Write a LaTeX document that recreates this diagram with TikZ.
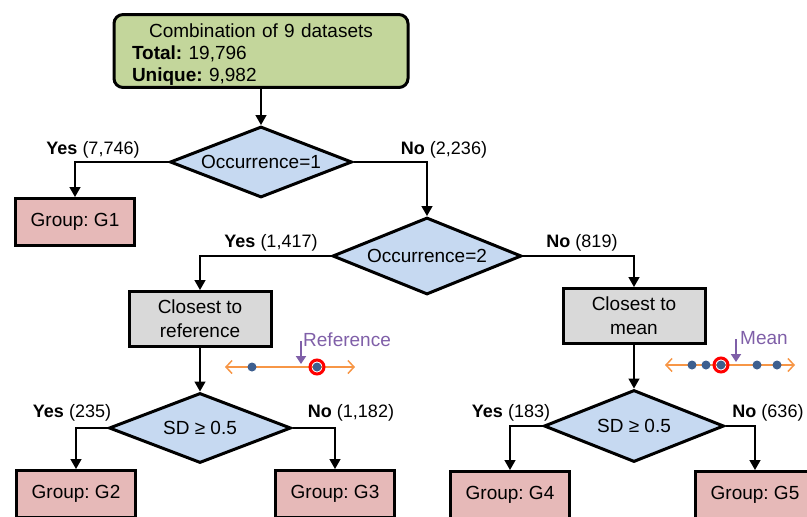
\documentclass[tikz,border=0pt]{standalone}
\usepackage{fontspec}
\setmainfont{Liberation Sans}
\frenchspacing
\usetikzlibrary{shapes.geometric,arrows.meta}
\definecolor{srcgreen}{HTML}{C3D69B}
\definecolor{grppink}{HTML}{E6B9B8}
\definecolor{condblue}{HTML}{C6D9F1}
\definecolor{pickgray}{HTML}{D9D9D9}
\definecolor{lineorange}{HTML}{F79646}
\definecolor{ptrpurple}{HTML}{7F5FA8}
\definecolor{dotblue}{HTML}{3D5F8F}
\tikzset{
  box/.style={rectangle, draw, line width=3pt, align=center, font=\fontsize{19}{24}\selectfont, inner sep=2pt},
  srcbox/.style={box, rounded corners=9pt, fill=srcgreen, text width=258pt, inner xsep=18pt, minimum height=71pt, align=left, font=\fontsize{19}{22}\selectfont},
  condbox/.style={diamond, draw, line width=3pt, fill=condblue, inner sep=0pt, aspect=2.56, font=\fontsize{19}{22}\selectfont},
  pickbox/.style={box, fill=pickgray, minimum width=142pt, minimum height=55pt},
  grpbox/.style={box, fill=grppink, minimum width=119pt, minimum height=47pt},
  lbl/.style={font=\fontsize{18}{20}\selectfont, inner sep=0pt},
  arr/.style={-{Triangle[length=10pt,width=11pt]}, line width=1.5pt},
  numline/.style={{Straight Barb[length=6pt,width=13pt]}-{Straight Barb[length=6pt,width=13pt]}, draw=lineorange, line width=1.5pt},
  pnt/.style={circle, fill=dotblue, inner sep=0pt, minimum size=9pt},
  hit/.style={circle, draw=red, line width=3pt, inner sep=0pt, minimum size=14pt},
  ptr/.style={-{Triangle[length=8pt,width=10pt]}, draw=ptrpurple, line width=2pt},
  ptrtext/.style={text=ptrpurple, font=\fontsize{19}{22}\selectfont, inner sep=0pt, anchor=west}
}

\begin{document}
\begin{tikzpicture}[x=1pt, y=-1pt]
\useasboundingbox (0,0) rectangle (807,517);

% sources and decisions
\node[srcbox] (all) at (261,51) {\makebox[258pt]{\rule{0pt}{21pt}Combination of 9 datasets}\\ \textbf{Total:} 19,796\\ \textbf{Unique:} 9,982};
\node[condbox, minimum width=182pt, minimum height=71pt] (occ1) at (261,162) {Occurrence=1};
\node[grpbox] (g1) at (75,222) {Group: G1};
\node[condbox, minimum width=189pt, minimum height=77pt] (occ2) at (427,256) {Occurrence=2};
\node[pickbox] (ref) at (200,319) {Closest to\\reference};
\node[pickbox] (mean) at (634,316) {Closest to\\mean};
\node[condbox, minimum width=182pt, minimum height=70pt] (sd1) at (200,428) {SD ≥ 0.5};
\node[condbox, minimum width=180pt, minimum height=72pt] (sd2) at (634,426) {SD ≥ 0.5};
\node[grpbox] (g2) at (76,494) {Group: G2};
\node[grpbox] (g3) at (335,494) {Group: G3};
\node[grpbox] (g4) at (510,495) {Group: G4};
\node[grpbox] (g5) at (755,495) {Group: G5};

% branch labels
\node[lbl] (y1) at (93,150) {\textbf{Yes} (7,746)};
\node[lbl] (n1) at (444,150) {\textbf{No} (2,236)};
\node[lbl] (y2) at (271,243) {\textbf{Yes} (1,417)};
\node[lbl] (n2) at (582,243) {\textbf{No} (819)};
\node[lbl] (y3) at (72,413) {\textbf{Yes} (235)};
\node[lbl] (n3) at (351,413) {\textbf{No} (1,182)};
\node[lbl] (y4) at (511,413) {\textbf{Yes} (183)};
\node[lbl] (n4) at (768,413) {\textbf{No} (636)};

\draw[arr] (all) -- (occ1);
\draw[arr] (occ1.west) -| (g1.north);
\draw[arr] (occ1.east) -| (occ2.north);
\draw[arr] (occ2.west) -| (ref.north);
\draw[arr] (occ2.east) -| (mean.north);
\draw[arr] (ref) -- (sd1);
\draw[arr] (mean) -- (sd2);
\draw[arr] (sd1.west) -| (g2.north);
\draw[arr] (sd1.east) -| (g3.north);
\draw[arr] (sd2.west) -| (g4.north);
\draw[arr] (sd2.east) -| (g5.north);

% number line: reference
\coordinate (refL) at (225,367);
\coordinate (refR) at (355,367);
\draw[numline] (refL) -- (refR);
\foreach \x in {252,317}
  \node[pnt] (rp\x) at (\x,367) {};
\node[hit] (rhit) at (rp317) {};
\coordinate (rtop) at (301,341);
\coordinate (rtip) at (301,364);
\draw[ptr] (rtop) -- (rtip);
\node[ptrtext] (rtext) at (303,340) {Reference};

% number line: mean
\coordinate (meanL) at (665,365);
\coordinate (meanR) at (795,365);
\draw[numline] (meanL) -- (meanR);
\foreach \x in {692,706,721,757,777}
  \node[pnt] (mp\x) at (\x,365) {};
\node[hit] (mhit) at (mp721) {};
\coordinate (mtop) at (736,339);
\coordinate (mtip) at (736,362);
\draw[ptr] (mtop) -- (mtip);
\node[ptrtext] (mtext) at (740,338) {Mean};
\end{tikzpicture}
\end{document}
